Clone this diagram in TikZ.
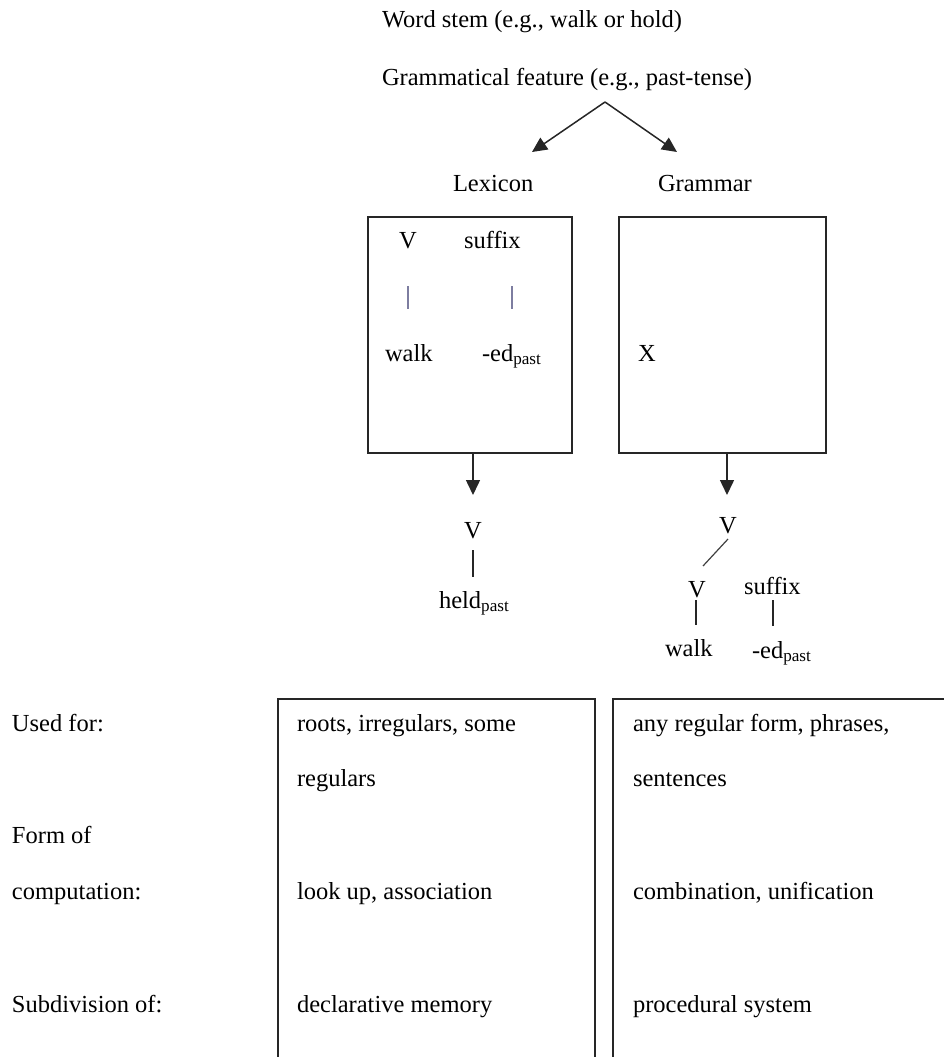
\documentclass[tikz,border=0pt]{standalone}
\usepackage{fontspec}
\setmainfont{Liberation Serif}
\usetikzlibrary{arrows.meta}
\begin{document}
\begin{tikzpicture}[x=1pt,y=-1pt,
  every node/.style={inner sep=0pt, outer sep=0pt, font=\fontsize{24.5}{29}\selectfont},
  txt/.style={anchor=base west},
  ctxt/.style={anchor=base},
  frame/.style={draw=black!85, line width=1.6pt},
  link/.style={draw=black!85, line width=1.3pt},
  thinbar/.style={draw={rgb,255:red,125;green,125;blue,160}, line width=1.3pt},
  arr/.style={draw=black!85, line width=1.5pt, -{Triangle[length=15pt,width=14pt]}}]
\useasboundingbox (0,0) rectangle (943,1057);

% header
\node[txt] (stem) at (382,28) {Word stem (e.g., walk or hold)};
\node[txt] (feat) at (382,85) {Grammatical feature (e.g., past-tense)};
\coordinate (apex) at (605,102);
\coordinate (ltip) at (532,152);
\coordinate (rtip) at (677,152);
\draw[arr] (apex) -- (ltip);
\draw[arr] (apex) -- (rtip);
\node[txt] (lex) at (453,191) {Lexicon};
\node[txt] (gram) at (658,191) {Grammar};

% boxes
\node[frame, minimum width=204pt, minimum height=236pt, anchor=north west] (lexbox) at (368,217) {};
\node[frame, minimum width=207pt, minimum height=236pt, anchor=north west] (grambox) at (619,217) {};

% lexicon box content
\node[ctxt] (lv) at (408,248) {V};
\node[txt] (lsuf) at (464,248) {suffix};
\node[txt] (lwalk) at (385,361) {walk};
\node[txt] (led) at (482,361) {-ed\textsubscript{past}};
\coordinate (lb1t) at (408,286); \coordinate (lb1b) at (408,309);
\coordinate (lb2t) at (512,286); \coordinate (lb2b) at (512,309);
\draw[thinbar] (lb1t) -- (lb1b);
\draw[thinbar] (lb2t) -- (lb2b);

% grammar box content
\node[txt] (gx) at (638,361) {X};

% down arrows
\coordinate (lds) at (473,453);
\coordinate (ldt) at (473,495);
\coordinate (rds) at (727,453);
\coordinate (rdt) at (727,495);
\draw[arr] (lds) -- (ldt);
\draw[arr] (rds) -- (rdt);

% lexicon output
\node[ctxt] (hv) at (473,538) {V};
\node[txt] (held) at (439,608) {held\textsubscript{past}};
\draw[link] (473,550) -- (473,577);

% grammar output tree
\node[ctxt] (gv) at (728,533) {V};
\node[ctxt] (gv2) at (697,597) {V};
\node[txt] (gsuf) at (744,594) {suffix};
\node[txt] (gwalk) at (665,656) {walk};
\node[txt] (ged) at (752,658) {-ed\textsubscript{past}};
\draw[draw=black!75, line width=1.2pt] (728,539) -- (703,566);
\draw[link] (696,600) -- (696,625);
\draw[link] (773,600) -- (773,626);

% bottom table
\node[txt] (usedfor) at (12,731) {Used for:};
\node[txt] (formof) at (12,843) {Form of};
\node[txt] (comp) at (12,899) {computation:};
\node[txt] (subdiv) at (12,1012) {Subdivision of:};

\draw[frame] (278,1060) -- (278,699) -- (595,699) -- (595,1060);
\draw[frame] (613,1060) -- (613,699) -- (946,699);

\node[txt] (l1) at (297,731) {roots, irregulars, some};
\node[txt] (l2) at (297,786) {regulars};
\node[txt] (l3) at (297,899) {look up, association};
\node[txt] (l4) at (297,1012) {declarative memory};

\node[txt] (r1) at (633,731) {any regular form, phrases,};
\node[txt] (r2) at (633,786) {sentences};
\node[txt] (r3) at (633,899) {combination, unification};
\node[txt] (r4) at (633,1012) {procedural system};
\end{tikzpicture}
\end{document}
